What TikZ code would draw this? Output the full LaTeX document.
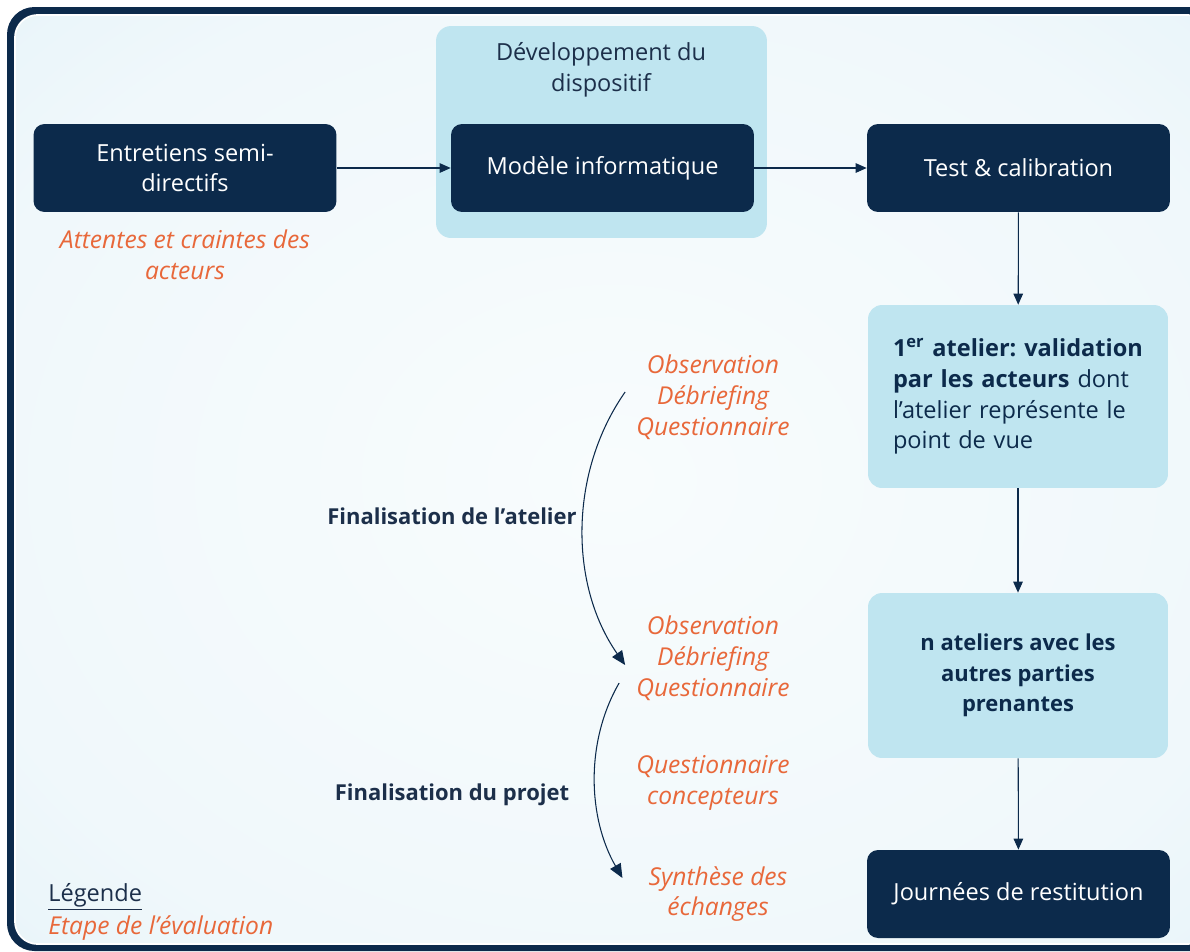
\documentclass[tikz,border=0pt]{standalone}
\usepackage{fontspec}
\setmainfont{Open Sans}
\usetikzlibrary{arrows.meta,positioning}
\definecolor{navy}{HTML}{0C2A4B}
\definecolor{pale}{HTML}{BFE5F0}
\definecolor{orng}{HTML}{E8683A}
\definecolor{ink}{HTML}{1C2F4A}
\definecolor{bgin}{HTML}{F8FCFD}
\definecolor{bgmid}{HTML}{F0F8FB}
\definecolor{bgout}{HTML}{DDEFF6}
\pgfdeclareradialshading{framebg}{\pgfpoint{0bp}{0bp}}{color(0bp)=(bgin); color(28bp)=(bgmid); color(50bp)=(bgout)}
\newcommand{\boxfont}{\fontsize{13.4}{17.5}\selectfont}
\newcommand{\bfboxfont}{\fontsize{12.5}{17.5}\selectfont\bfseries}
\newcommand{\evalfont}{\fontsize{14}{17.6}\selectfont\itshape}
\tikzset{
  darkbox/.style={fill=navy, text=white, rounded corners=0.22cm, minimum width=6.06cm,
    minimum height=1.76cm, align=center, font=\boxfont},
  palebox/.style={fill=pale, text=navy, rounded corners=0.28cm, minimum width=6cm, font=\boxfont},
  evalnote/.style={text=orng, align=center, font=\evalfont},
  phase/.style={text=ink, font=\bfboxfont},
  arr/.style={draw=navy, line width=0.6pt, -{Triangle[length=0.22cm,width=0.19cm]}},
  bentarr/.style={draw=navy, line width=0.6pt, -{Triangle[length=0.28cm,width=0.24cm]}},
}
\frenchspacing
\begin{document}
\begin{tikzpicture}[x=0.02cm, y=0.02cm]
  \useasboundingbox (0,0) rectangle (1190,-951);
  % frame
  \fill[navy, rounded corners=0.55cm] (7,-7) rectangle (1230,-951);
  \shade[shading=framebg, rounded corners=0.45cm] (15,-15) rectangle (1210,-944);
  \draw[white, line width=1pt, rounded corners=0.45cm] (15,-15) rectangle (1210,-944);

  % development group
  \node[fill=pale, rounded corners=0.3cm, minimum width=6.62cm, minimum height=4.24cm] (dev) at (601.5,-132) {};
  \node[text=ink, align=center, font=\boxfont] (devtitle) at (601,-70) {Développement du\\dispositif};

  % main steps
  \node[darkbox] (ent) at (185,-168) {Entretiens semi-\\directifs};
  \node[darkbox] (mod) at (602.5,-168) {Modèle informatique};
  \node[darkbox] (test) at (1018.5,-168) {Test \& calibration};
  \node[palebox, minimum height=3.66cm, text width=5cm, align=left] (at1) at (1018,-396.5)
    {\textbf{1\textsuperscript{er} atelier: validation}\\\textbf{par les acteurs} dont\\l’atelier représente le\\point de vue};
  \node[palebox, minimum height=3.3cm, align=center, font=\bfboxfont] (atn) at (1018,-675.5)
    {n ateliers avec les\\autres parties\\prenantes};
  \node[darkbox] (jour) at (1018.5,-894) {Journées de restitution};

  \draw[arr] (ent) -- (mod);
  \draw[arr] (mod) -- (test);
  \draw[arr] (test) -- (at1);
  \draw[arr] (at1) -- (atn);
  \draw[arr] (atn) -- (jour);

  % evaluation steps
  \node[evalnote] (att) at (185,-255) {Attentes et craintes des\\acteurs};
  \node[evalnote] (obs1) at (713,-397) {Observation\\Débriefing\\Questionnaire};
  \node[evalnote] (obs2) at (713,-658) {Observation\\Débriefing\\Questionnaire};
  \node[evalnote] (qc) at (713,-783) {Questionnaire\\concepteurs};
  \node[evalnote] (syn) at (718,-894) {Synthèse des\\échanges};

  \node[phase] (fin1) at (452,-516) {Finalisation de l’atelier};
  \node[phase] (fin2) at (452,-795) {Finalisation du projet};

  \draw[bentarr] ([shift={(-5,5)}]obs1.west) to[out=235, in=125, looseness=0.92] ([shift={(-5,-7)}]obs2.west);
  \draw[bentarr] ([shift={(-11,-25)}]obs2.west) to[out=240, in=120, looseness=0.9] ([shift={(-20,16)}]syn.west);

  % legend
  \node[anchor=west, text=ink, font=\boxfont, inner sep=0pt] (leg) at (48,-897) {\underline{Légende}};
  \node[anchor=west, text=orng, font=\evalfont, inner sep=0pt] (etape) at (48,-928) {Etape de l'évaluation};
\end{tikzpicture}
\end{document}
